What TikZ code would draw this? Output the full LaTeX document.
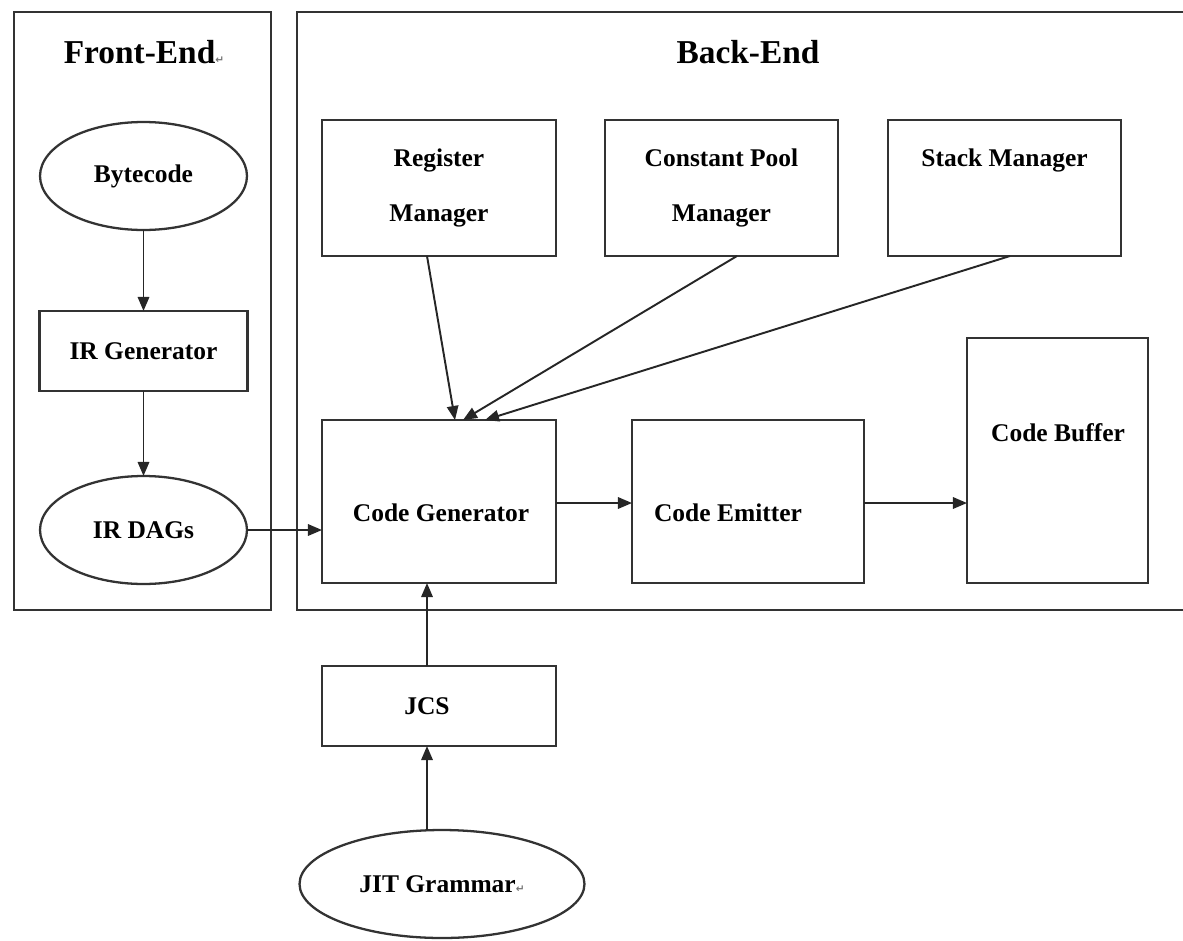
\documentclass[tikz,border=0pt]{standalone}
\usepackage{fontspec}
\setmainfont{Liberation Serif}
\newfontfamily\symfont{DejaVu Sans}
\newcommand{\retmk}{{\symfont\fontsize{6}{6}\selectfont\color{black!55}↵}}
\usetikzlibrary{arrows.meta,shapes.geometric}
\begin{document}
\begin{tikzpicture}[x=0.02cm,y=-0.02cm,
  every node/.style={inner sep=0pt,outer sep=0pt},
  frame/.style={draw=black!80,line width=1.3pt},
  box/.style={draw=black!80,line width=1.3pt,rectangle,align=center,font=\bfseries\fontsize{14.5}{31}\selectfont},
  oval/.style={draw=black!80,line width=1.3pt,ellipse,minimum height=2.16cm,font=\bfseries\fontsize{14.5}{17}\selectfont},
  lbl/.style={font=\bfseries\fontsize{14.5}{17}\selectfont},
  ttl/.style={font=\bfseries\fontsize{19}{22}\selectfont},
  arr/.style={draw=black!85,line width=1.1pt,-{Triangle[length=8pt,width=6.5pt]}}
]
\useasboundingbox (0,0) rectangle (1183,940);
% frames
\draw[frame] (14,12) rectangle (271,610);
\draw[frame] (1190,12) -- (297,12) -- (297,610) -- (1190,610);
\node[ttl] (fe) at (144,52) {Front-End\retmk};
\node[ttl] (be) at (748,52) {Back-End};

% front end
\node[oval,minimum width=4.14cm] (byte) at (143.5,176) {Bytecode};
\node[box,minimum width=4.16cm,minimum height=1.6cm] (irg) at (143.5,351) {IR Generator};
\node[oval,minimum width=4.14cm] (dags) at (143.5,530) {IR DAGs};

% back end top row
\node[box,minimum width=4.68cm,minimum height=2.72cm] (reg) at (439,188) {Register\\Manager};
\node[box,minimum width=4.66cm,minimum height=2.72cm] (cpm) at (721.5,188) {Constant Pool\\Manager};
\node[box,minimum width=4.66cm,minimum height=2.72cm] (stk) at (1004.5,188) {};
\node[lbl] (stkt) at (1004.5,160) {Stack Manager};

% back end bottom row
\node[box,minimum width=4.68cm,minimum height=3.26cm] (cg) at (439,501.5) {};
\node[lbl] (cgt) at (441,513) {Code Generator};
\node[box,minimum width=4.64cm,minimum height=3.26cm] (em) at (748,501.5) {};
\node[lbl] (emt) at (728,513) {Code Emitter};
\node[box,minimum width=3.62cm,minimum height=4.9cm] (buf) at (1057.5,460.5) {};
\node[lbl] (buft) at (1058,433) {Code Buffer};

% below
\node[box,minimum width=4.68cm,minimum height=1.6cm] (jcs) at (439,706) {};
\node[lbl] (jcst) at (427,706) {JCS};
\node[oval,minimum width=5.7cm] (jit) at (442,884) {JIT Grammar\retmk};

% arrows
\draw[arr] (byte.south) -- (irg.north);
\draw[arr] (irg.south) -- (dags.north);
\draw[arr] (dags.east) -- (dags.east -| cg.west);
\draw[arr] ([xshift=-0.24cm]reg.south) -- ([xshift=0.32cm]cg.north);
\draw[arr] ([xshift=0.31cm]cpm.south) -- ([xshift=0.48cm]cg.north);
\draw[arr] ([xshift=0.11cm]stk.south) -- ([xshift=0.92cm]cg.north);
\draw[arr] (cg.east |- 0,503) -- (em.west |- 0,503);
\draw[arr] (em.east |- 0,503) -- (buf.west |- 0,503);
\draw[arr] ([xshift=-0.3cm]jit.north) -- ([xshift=-0.24cm]jcs.south);
\draw[arr] ([xshift=-0.24cm]jcs.north) -- ([xshift=-0.24cm]cg.south);
\end{tikzpicture}
\end{document}
